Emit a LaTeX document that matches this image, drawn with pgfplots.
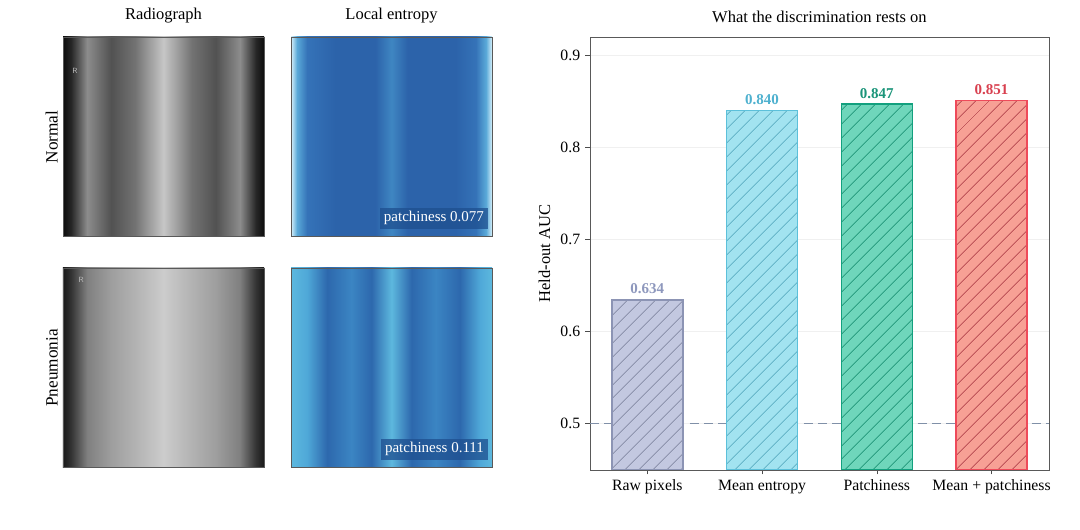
\documentclass[border=0pt]{standalone}
\usepackage{fontspec}
\setmainfont{Liberation Serif}
\usepackage{pgfplots}
\pgfplotsset{compat=1.18}
\usetikzlibrary{patterns.meta}

\definecolor{rawF}{HTML}{C3C8E0}\definecolor{rawE}{HTML}{8C94B4}\definecolor{rawL}{HTML}{8E98BD}
\definecolor{entF}{HTML}{A2E3F0}\definecolor{entE}{HTML}{5CC0DA}\definecolor{entL}{HTML}{4FB1CF}
\definecolor{patF}{HTML}{6FD6BB}\definecolor{patE}{HTML}{13A07E}\definecolor{patL}{HTML}{1A9479}
\definecolor{mixF}{HTML}{F7A095}\definecolor{mixE}{HTML}{EE4A5A}\definecolor{mixL}{HTML}{D8404F}
\definecolor{refline}{HTML}{8090A8}
\definecolor{boxblue}{HTML}{1E4F8F}

% shading positions: 25bp..75bp map onto the axis box
\pgfdeclarehorizontalshading{xrayN}{100bp}{color(0bp)=(black!95); color(25bp)=(black!95); color(27bp)=(black!85); color(31bp)=(black!45); color(37bp)=(black!68); color(43bp)=(black!55); color(50bp)=(black!22); color(57bp)=(black!55); color(63bp)=(black!68); color(69bp)=(black!45); color(73bp)=(black!85); color(75bp)=(black!95); color(100bp)=(black!95)}
\pgfdeclarehorizontalshading{xrayP}{100bp}{color(0bp)=(black!90); color(25bp)=(black!90); color(27bp)=(black!80); color(31bp)=(black!50); color(37bp)=(black!38); color(43bp)=(black!30); color(50bp)=(black!20); color(57bp)=(black!30); color(63bp)=(black!38); color(69bp)=(black!50); color(73bp)=(black!80); color(75bp)=(black!90); color(100bp)=(black!90)}
\definecolor{e0}{HTML}{D6F0FA}\definecolor{e1}{HTML}{5AA9D8}\definecolor{e2}{HTML}{2C63AA}\definecolor{e3}{HTML}{3F86C2}\definecolor{e4}{HTML}{3573B8}
\definecolor{p1}{HTML}{4FA8D8}\definecolor{p2}{HTML}{2D68AD}\definecolor{p3}{HTML}{5DB8DE}\definecolor{p4}{HTML}{3B85C3}
\pgfdeclarehorizontalshading{entN}{100bp}{color(0bp)=(e0); color(25bp)=(e0); color(26.5bp)=(e1); color(29bp)=(e4); color(36bp)=(e2); color(46bp)=(e2); color(50bp)=(e3); color(54bp)=(e2); color(66bp)=(e2); color(71bp)=(e4); color(73.5bp)=(e1); color(75bp)=(e0); color(100bp)=(e0)}
\pgfdeclarehorizontalshading{entP}{100bp}{color(0bp)=(p3); color(25bp)=(p3); color(29bp)=(p1); color(34bp)=(p2); color(40bp)=(p4); color(45bp)=(p2); color(50bp)=(p3); color(55bp)=(p2); color(61bp)=(p4); color(67bp)=(p2); color(72bp)=(p1); color(75bp)=(p3); color(100bp)=(p3)}

\pgfplotsset{
  imgax/.style={scale only axis, width=134pt, height=133.3pt, anchor=north west,
    xmin=0, xmax=1, ymin=0, ymax=1, xtick=\empty, ytick=\empty,
    axis line style={black!65, line width=0.6pt},
    title style={font=\fontsize{11}{13}\selectfont, yshift=0pt},
    ylabel style={font=\fontsize{11.5}{13}\selectfont}},
}

\begin{document}
\begin{tikzpicture}
\useasboundingbox (0,0) rectangle (720pt,353.33pt);

% Normal radiograph
\begin{axis}[imgax, at={(42pt,328.67pt)}, title={Radiograph}, ylabel={Normal},
  axis background/.style={shade, shading=xrayN}]
  \node[text=white!75!black, font=\tiny\sffamily] at (rel axis cs:0.06,0.83) {R};
\end{axis}
% Normal entropy
\begin{axis}[imgax, at={(194pt,328.67pt)}, title={Local entropy},
  axis background/.style={shade, shading=entN}]
  \node[anchor=south east, fill=boxblue, fill opacity=0.75, text opacity=1, text=white,
    font=\fontsize{10}{12}\selectfont, inner sep=2.5pt] at (rel axis cs:0.98,0.04) {patchiness 0.077};
\end{axis}
% Pneumonia radiograph
\begin{axis}[imgax, at={(42pt,174.67pt)}, ylabel={Pneumonia},
  axis background/.style={shade, shading=xrayP}]
  \node[text=white!75!black, font=\tiny\sffamily] at (rel axis cs:0.09,0.94) {R};
\end{axis}
% Pneumonia entropy
\begin{axis}[imgax, at={(194pt,174.67pt)},
  axis background/.style={shade, shading=entP}]
  \node[anchor=south east, fill=boxblue, fill opacity=0.75, text opacity=1, text=white,
    font=\fontsize{10}{12}\selectfont, inner sep=2.5pt] at (rel axis cs:0.98,0.04) {patchiness 0.111};
\end{axis}

% Bar chart
\begin{axis}[
  at={(393.3pt,328.67pt)}, anchor=north west,
  scale only axis, width=306pt, height=288.67pt,
  xmin=-0.5, xmax=3.5, ymin=0.449, ymax=0.92,
  xtick={0,1,2,3},
  xticklabels={Raw pixels, Mean entropy, Patchiness, Mean + patchiness},
  ytick={0.5,0.6,0.7,0.8,0.9},
  yticklabel style={/pgf/number format/fixed, /pgf/number format/precision=1},
  /pgf/number format/assume math mode=true,
  ymajorgrids, grid style={black!6, line width=0.5pt},
  tick align=outside, tick pos=left,
  major tick length=3pt,
  tick style={black!70},
  axis line style={black!65, line width=0.6pt},
  ylabel={Held-out AUC},
  title={What the discrimination rests on},
  title style={font=\fontsize{11}{13}\selectfont, yshift=0pt},
  ticklabel style={font=\fontsize{10.5}{12}\selectfont},
  ylabel style={font=\fontsize{11}{13}\selectfont},
  bar width=0.62,
]
\addplot[refline, dashed, dash pattern=on 6pt off 3.5pt, line width=0.6pt] coordinates {(-0.5,0.5) (3.5,0.5)};
\pgfplotsset{every node near coord/.style={font=\bfseries\fontsize{10}{12}\selectfont,
    /pgf/number format/fixed, /pgf/number format/precision=3, /pgf/number format/fixed zerofill}}
\addplot[ybar, bar shift=0pt, fill=rawF, draw=rawE, line width=1pt,
  postaction={pattern={Lines[angle=45,distance=6.5pt,line width=0.5pt]}, pattern color=rawE!85!black},
  nodes near coords, nodes near coords style={text=rawL}] coordinates {(0,0.634)};
\addplot[ybar, bar shift=0pt, fill=entF, draw=entE, line width=1pt,
  postaction={pattern={Lines[angle=45,distance=6.5pt,line width=0.5pt]}, pattern color=entE!85!black},
  nodes near coords, nodes near coords style={text=entL}] coordinates {(1,0.840)};
\addplot[ybar, bar shift=0pt, fill=patF, draw=patE, line width=1pt,
  postaction={pattern={Lines[angle=45,distance=6.5pt,line width=0.5pt]}, pattern color=patE!85!black},
  nodes near coords, nodes near coords style={text=patL}] coordinates {(2,0.847)};
\addplot[ybar, bar shift=0pt, fill=mixF, draw=mixE, line width=1pt,
  postaction={pattern={Lines[angle=45,distance=6.5pt,line width=0.5pt]}, pattern color=mixE!70!black},
  nodes near coords, nodes near coords style={text=mixL}] coordinates {(3,0.851)};
\end{axis}
\end{tikzpicture}
\end{document}
